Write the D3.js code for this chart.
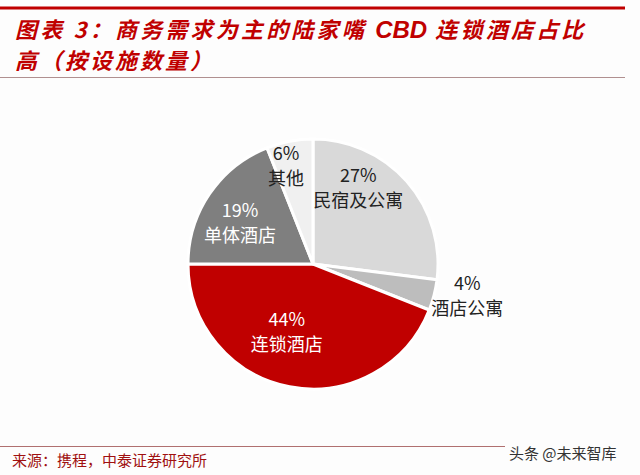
<!DOCTYPE html>
<html>
<head>
<meta charset="utf-8">
<script src="https://cdn.jsdelivr.net/npm/d3@7"></script>
<style>
  body { margin: 0; background: #fdfdfd; }
  svg { display: block; font-family: "Noto Sans CJK SC", "Noto Sans", sans-serif; }
</style>
</head>
<body>
<div id="chart"></div>
<script>
// data
var categories = ["民宿及公寓", "酒店公寓", "连锁酒店", "单体酒店", "其他"];
var values = [27, 4, 44, 19, 6];
var pctLabels = ["27%", "4%", "44%", "19%", "6%"];
var colors = ["#d9d9d9", "#bdbdbd", "#c00000", "#7f7f7f", "#f0f0f0"];
var titleParts = ["图表 3：商务需求为主的陆家嘴 ", "CBD", " 连锁酒店占比"];
var titleLine2 = "高（按设施数量）";
var sourceText = "来源：携程，中泰证券研究所";

var width = 640, height = 475;

var svg = d3.select("#chart")
    .append("svg")
    .attr("width", width)
    .attr("height", height);

svg.append("rect").attr("width", width).attr("height", height).attr("fill", "#fdfdfd");

// header
svg.append("line")
    .attr("x1", 0).attr("x2", 625).attr("y1", 8).attr("y2", 8)
    .attr("stroke", "#c00000").attr("stroke-width", 3);

var title = svg.append("text")
    .attr("x", 15)
    .attr("y", 38)
    .attr("fill", "#c00000")
    .attr("font-size", "22px")
    .attr("font-weight", "bold")
    .attr("font-style", "italic")
    .attr("xml:space", "preserve");

title.selectAll("tspan").data(titleParts)
    .enter().append("tspan")
    .attr("font-family", function (d, i) { return i === 1 ? "Liberation Sans, Arial, sans-serif" : null; })
    .attr("font-size", function (d, i) { return i === 1 ? "24px" : null; })
    .attr("letter-spacing", function (d, i) { return i === 1 ? 0 : 3.2; })
    .text(function (d) { return d; });

svg.append("text")
    .attr("x", 15)
    .attr("y", 69)
    .attr("fill", "#c00000")
    .attr("font-size", "22px")
    .attr("font-weight", "bold")
    .attr("font-style", "italic")
    .attr("letter-spacing", 3)
    .text(titleLine2);

svg.append("line")
    .attr("x1", 0).attr("x2", 625).attr("y1", 77.5).attr("y2", 77.5)
    .attr("stroke", "#b09090").attr("stroke-width", 1);

// pie
var cx = 313, cy = 264, radius = 125;

var pie = d3.pie().sort(null).value(function (d) { return d; });
var arc = d3.arc().innerRadius(0).outerRadius(radius);
var arcs = pie(values);

var g = svg.append("g").attr("transform", "translate(" + cx + "," + cy + ")");

g.selectAll("path").data(arcs)
    .enter().append("path")
    .attr("d", arc)
    .attr("fill", function (d, i) { return colors[i]; })
    .attr("stroke", "#ffffff")
    .attr("stroke-width", 3)
    .attr("stroke-linejoin", "round");

// label placement: fraction of radius, and shift from slice bisector (degrees)
var labelRadius = [0.71, 1.26, 0.58, 0.67, 0.81];
var labelShift = [-18, -2.7, 10.4, -4.9, -4.6];
var textColor = ["#222", "#222", "#fff", "#fff", "#222"];

var labels = g.selectAll(".lbl").data(arcs)
    .enter().append("g")
    .attr("class", "lbl")
    .attr("transform", function (d, i) {
        var a = (d.startAngle + d.endAngle) / 2 + labelShift[i] * Math.PI / 180;
        var r = radius * labelRadius[i];
        return "translate(" + (Math.sin(a) * r) + "," + (-Math.cos(a) * r) + ")";
    });

labels.append("text")
    .attr("text-anchor", "middle")
    .attr("y", -6)
    .attr("font-size", "18px")
    .attr("fill", function (d, i) { return textColor[i]; })
    .text(function (d, i) { return pctLabels[i]; });

labels.append("text")
    .attr("text-anchor", "middle")
    .attr("y", 19)
    .attr("font-size", "18px")
    .attr("fill", function (d, i) { return textColor[i]; })
    .text(function (d, i) { return categories[i]; });

// footer
svg.append("line")
    .attr("x1", 0).attr("x2", 505).attr("y1", 446.5).attr("y2", 446.5)
    .attr("stroke", "#b07070").attr("stroke-width", 1);

svg.append("text")
    .attr("x", 12).attr("y", 466)
    .attr("fill", "#a01010")
    .attr("font-size", "15px")
    .text(sourceText);

svg.append("text")
    .attr("x", 509).attr("y", 459)
    .attr("fill", "#333")
    .attr("font-size", "15px")
    .text("头条 @未来智库");
</script>
</body>
</html>
